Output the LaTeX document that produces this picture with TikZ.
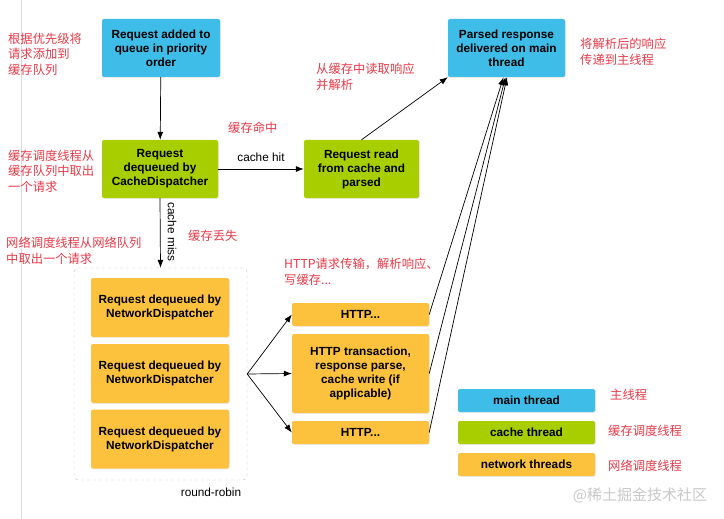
\documentclass[tikz,border=0pt]{standalone}
\usepackage{fontspec}
\setmainfont{Liberation Sans}
\newfontfamily\cjk{Noto Sans CJK SC}
\usetikzlibrary{arrows.meta,shadows}
\definecolor{cmain}{HTML}{3DBDE8}
\definecolor{ccache}{HTML}{A8CE00}
\definecolor{cnet}{HTML}{FCC23E}
\definecolor{cred}{HTML}{E83A48}
\definecolor{cmark}{HTML}{C8C8C8}
\definecolor{cvline}{HTML}{DADADA}
\tikzset{
  box/.style={rounded corners=2pt, inner sep=0pt, align=center,
    font=\fontsize{11.8}{14}\selectfont\bfseries,
    drop shadow={shadow xshift=0.8pt, shadow yshift=-0.8pt, opacity=0.15}},
  mainbox/.style={box, fill=cmain},
  cachebox/.style={box, fill=ccache},
  netbox/.style={box, fill=cnet},
  note/.style={text=cred, inner sep=0pt, anchor=west, align=left,
    font=\cjk\fontsize{12.3}{15.5}\selectfont},
  conn/.style={-{Latex[length=8pt,width=6pt]}, line width=0.7pt, black},
  lbl/.style={inner sep=0pt, font=\fontsize{11.8}{14}\selectfont},
}
\begin{document}
\begin{tikzpicture}[x=1pt,y=-1pt]
\useasboundingbox (0,0) rectangle (724,519);
\fill[white] (0,0) rectangle (724,519);
\draw[cvline, line width=0.8pt] (21.5,0) -- (21.5,519);

% main flow
\node[mainbox, minimum width=118pt, minimum height=58pt] (top) at (161,48) {Request added to\\queue in priority\\order};
\node[cachebox, minimum width=116pt, minimum height=58pt] (cd) at (160,169) {Request\\dequeued by\\CacheDispatcher};
\node[cachebox, minimum width=115pt, minimum height=58pt] (rd) at (361.5,169) {Request read\\from cache and\\parsed};
\node[mainbox, minimum width=117pt, minimum height=58pt] (pr) at (506.5,48) {Parsed response\\delivered on main\\thread};

% dashed network group
\node[draw=gray!50, dashed, rounded corners=4pt, minimum width=173pt, minimum height=212pt, inner sep=0pt] (grp) at (160.5,374) {};
\node[netbox, minimum width=138pt, minimum height=59pt] (n1) at (160,307.5) {Request dequeued by\\NetworkDispatcher};
\node[netbox, minimum width=138pt, minimum height=59pt] (n2) at (160,373.5) {Request dequeued by\\NetworkDispatcher};
\node[netbox, minimum width=138pt, minimum height=59pt] (n3) at (160,439) {Request dequeued by\\NetworkDispatcher};
\node[lbl] (rr) at (211,492) {round-robin};

% HTTP boxes
\node[netbox, minimum width=137pt, minimum height=23pt] (h1) at (360.5,314.5) {HTTP...};
\node[netbox, minimum width=137pt, minimum height=79pt] (h2) at (360.5,373.5) {HTTP transaction,\\response parse,\\cache write (if\\applicable)};
\node[netbox, minimum width=137pt, minimum height=23pt] (h3) at (360.5,432.5) {HTTP...};

% legend
\node[mainbox, minimum width=137pt, minimum height=23pt] (lg1) at (526.5,400.5) {main thread};
\node[cachebox, minimum width=137pt, minimum height=23pt] (lg2) at (526.5,432.5) {cache thread};
\node[netbox, minimum width=137pt, minimum height=23pt] (lg3) at (526.5,464.5) {network threads};

% connectors
\draw[conn] (top) -- (cd);
\draw[conn] (cd) -- node[lbl, above=7pt] (chl) {cache hit} (rd);
\draw[conn] (cd.south) -- (grp.north);
\node[lbl, rotate=-90] (cml) at (172,232) {cache miss};
\draw[conn] (rd.north) -- (pr.south west);
\coordinate (fan) at (grp.east);
\draw[conn] (fan) -- (h1.west);
\draw[conn] (fan) -- (h2.west);
\draw[conn] (fan) -- (h3.west);
\draw[conn] (h1.east) -- ([xshift=-3pt]pr.south);
\draw[conn] (h2.east) -- ([xshift=-1pt]pr.south);
\draw[conn] (h3.east) -- ([xshift=0.5pt]pr.south);

% red notes
\node[note] (a1) at (8,54) {根据优先级将\\请求添加到\\缓存队列};
\node[note] (a2) at (316,77) {从缓存中读取响应\\并解析};
\node[note] (a3) at (580,52) {将解析后的响应\\传递到主线程};
\node[note] (a4) at (228,128) {缓存命中};
\node[note] (a5) at (8,171) {缓存调度线程从\\缓存队列中取出\\一个请求};
\node[note] (a6) at (188,236) {缓存丢失};
\node[note] (a7) at (6,251) {网络调度线程从网络队列\\中取出一个请求};
\node[note] (a8) at (284,272) {HTTP请求传输，解析响应、\\写缓存...};
\node[note] (l1) at (610,395) {主线程};
\node[note] (l2) at (608,431) {缓存调度线程};
\node[note] (l3) at (608,466) {网络调度线程};

% watermark
\node[inner sep=0pt, text=cmark, font=\cjk\fontsize{15}{18}\selectfont] (wm) at (640,495) {@稀土掘金技术社区};
\end{tikzpicture}
\end{document}
